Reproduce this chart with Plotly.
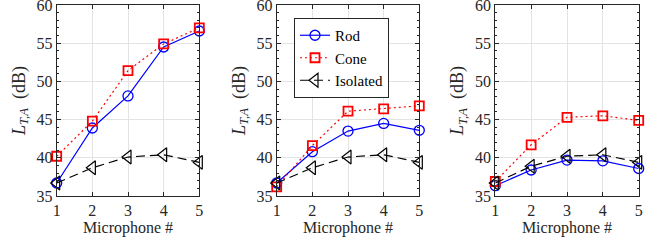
import plotly.graph_objects as go

mics = [1, 2, 3, 4, 5]
rod_1 = [36.7, 43.9, 48.1, 54.5, 56.6]
cone_1 = [40.2, 44.8, 51.4, 54.9, 57.0]
iso_1 = [36.7, 38.7, 40.1, 40.4, 39.4]

rod_2 = [36.7, 40.8, 43.5, 44.5, 43.6]
cone_2 = [36.2, 41.6, 46.1, 46.4, 46.8]
iso_2 = [36.7, 38.7, 40.1, 40.4, 39.4]

rod_3 = [36.35, 38.4, 39.7, 39.6, 38.6]
cone_3 = [36.9, 41.7, 45.3, 45.5, 44.9]
iso_3 = [36.7, 38.9, 40.2, 40.4, 39.4]

panels = [(rod_1, cone_1, iso_1), (rod_2, cone_2, iso_2), (rod_3, cone_3, iso_3)]
y_ticks = [35, 40, 45, 50, 55, 60]
x_ticks = [1, 2, 3, 4, 5]

W, H = 656, 246
x_doms = [(56.7, 199.3), (276.7, 419.3), (495.3, 638.7)]
y_dom = (1 - 196 / H, 1 - 5 / H)

FONT = "Liberation Serif"
TXT = "#262626"
fig = go.Figure()

for i, (rod, cone, iso) in enumerate(panels):
    n = "" if i == 0 else str(i + 1)
    xa, ya = "x" + n, "y" + n
    show = i == 0
    fig.add_trace(go.Scatter(x=mics, y=rod, name="Rod", mode="lines+markers", xaxis=xa, yaxis=ya,
                             line=dict(color="#0000ff", width=1.2),
                             marker=dict(symbol="circle-open", size=10, color="#0000ff", line=dict(width=1.3)),
                             cliponaxis=False, showlegend=show))
    fig.add_trace(go.Scatter(x=mics, y=cone, name="Cone", mode="lines+markers", xaxis=xa, yaxis=ya,
                             line=dict(color="#ff0000", width=1.2, dash="2px,3px"),
                             marker=dict(symbol="square-open", size=9, color="#ff0000", line=dict(width=1.8)),
                             cliponaxis=False, showlegend=show))
    fig.add_trace(go.Scatter(x=mics, y=iso, name="Isolated", mode="lines+markers", xaxis=xa, yaxis=ya,
                             line=dict(color="#000000", width=1.2, dash="9px,5px"),
                             marker=dict(symbol="triangle-left-open", size=12, color="#000000", line=dict(width=1.2)),
                             cliponaxis=False, showlegend=show))
    x0, x1 = x_doms[i]
    axcommon = dict(showline=True, linecolor=TXT, linewidth=1, mirror="allticks",
                    ticks="inside", ticklen=4, tickcolor=TXT, automargin=False,
                    ticklabeloverflow="allow",
                    showgrid=True, gridcolor="#e3e3e3", gridwidth=1, zeroline=False,
                    tickfont=dict(family=FONT, size=16, color=TXT))
    fig.layout["xaxis" + n] = dict(domain=[x0 / W, x1 / W], anchor=ya, range=[0.9999, 5.0001],
                                   tickvals=x_ticks, ticktext=[str(v) for v in x_ticks],
                                   title=dict(text="Microphone #", font=dict(family=FONT, size=16, color=TXT), standoff=3),
                                   **axcommon)
    fig.layout["yaxis" + n] = dict(domain=list(y_dom), anchor=xa, range=[34.999, 60.001],
                                   tickvals=y_ticks, ticktext=[str(v) for v in y_ticks],
                                   minor=dict(dtick=1, ticks="inside", ticklen=2, tickcolor=TXT, showgrid=False),
                                   title=dict(text="<i>L</i><sub><i>T,A</i></sub>&nbsp;&nbsp;(dB)", font=dict(family=FONT, size=18, color=TXT), standoff=6),
                                   **axcommon)

fig.update_layout(
    width=W, height=H, margin=dict(l=0, r=0, t=0, b=0),
    paper_bgcolor="white", plot_bgcolor="white",
    font=dict(family=FONT),
    legend=dict(x=294 / W, y=1 - 18 / H, xanchor="left", yanchor="top",
                bordercolor=TXT, borderwidth=1, bgcolor="white",
                font=dict(family=FONT, size=15, color="#000000"),
                tracegroupgap=0, itemwidth=30),
)

fig.write_html("out.html", config={"displayModeBar": False},
               post_script="document.body.style.margin='0';document.body.style.overflow='hidden';")
